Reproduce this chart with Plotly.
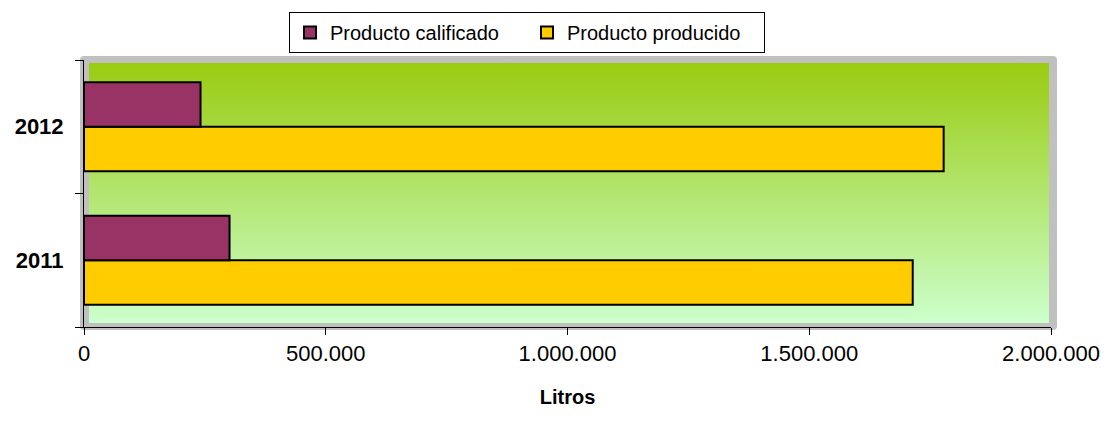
import base64
import plotly.graph_objects as go

# ---- data ----
years = ["2011", "2012"]
producto_producido = [1714000, 1778000]
producto_calificado = [301000, 241000]
x_tickvals = [0, 500000, 1000000, 1500000, 2000000]
x_ticktext = ["0", "500.000", "1.000.000", "1.500.000", "2.000.000"]

FONT = "Liberation Sans, Arial, sans-serif"

fig = go.Figure()
fig.add_trace(go.Bar(
    y=years, x=producto_producido, orientation="h", name="Producto producido",
    marker=dict(color="#FFCC00", line=dict(color="#000000", width=2)),
))
fig.add_trace(go.Bar(
    y=years, x=producto_calificado, orientation="h", name="Producto calificado",
    marker=dict(color="#993366", line=dict(color="#000000", width=2)),
))

# background wall (gray frame + green vertical gradient) as an SVG image
svg = (
    '<svg xmlns="http://www.w3.org/2000/svg" width="977" height="274" viewBox="0 0 977 274" preserveAspectRatio="none">'
    '<defs><linearGradient id="g" x1="0" y1="0" x2="0" y2="1">'
    '<stop offset="0" stop-color="#99CC11"/><stop offset="1" stop-color="#CCFFCC"/>'
    '</linearGradient></defs>'
    '<rect x="0" y="0" width="977" height="274" rx="4" ry="4" fill="#C0C0C0"/>'
    '<rect x="9" y="7" width="960" height="260" fill="url(#g)"/>'
    '</svg>'
)
src = "data:image/svg+xml;base64," + base64.b64encode(svg.encode()).decode()

L, R, T, B = 84, 60, 60, 108
W, H = 1111, 435
pw, ph = W - L - R, H - T - B

fig.add_layout_image(dict(
    source=src, xref="paper", yref="paper",
    x=(80 - L) / pw, y=(T + ph - 56) / ph,
    sizex=977 / pw, sizey=274 / ph,
    xanchor="left", yanchor="top", sizing="stretch", layer="below",
))

fig.update_layout(
    width=W, height=H,
    margin=dict(l=L, r=R, t=T, b=B),
    paper_bgcolor="white", plot_bgcolor="rgba(0,0,0,0)",
    barmode="group", bargap=0.333, bargroupgap=0,
    font=dict(family=FONT, color="#000000"),
    showlegend=True,
    legend=dict(
        orientation="h", traceorder="reversed",
        x=(289 - L) / pw, xanchor="left", y=(T + ph - 12) / ph, yanchor="top",
        bordercolor="#000000", borderwidth=1, bgcolor="white",
        font=dict(size=20, family=FONT, color="#000000"),
        entrywidth=192, entrywidthmode="pixels",
    ),
    xaxis=dict(
        range=[0, 2000000], tickvals=x_tickvals, ticktext=x_ticktext,
        showgrid=False, zeroline=False,
        showline=True, linecolor="#000000", linewidth=1,
        ticks="outside", ticklen=7, tickcolor="#000000",
        tickfont=dict(size=22, family=FONT, color="#000000"),
        ticklabelstandoff=0,
        title=dict(text="<b>Litros</b>", font=dict(size=20, family=FONT, color="#000000"), standoff=24),
    ),
    yaxis=dict(
        type="category", categoryorder="array", categoryarray=years,
        showgrid=False, zeroline=False,
        showline=True, linecolor="#000000", linewidth=1,
        ticks="outside", ticklen=8, tickcolor="#000000", tickson="boundaries",
        tickfont=dict(size=22, family=FONT, color="#000000", weight="bold"),
        ticklabelstandoff=15,
    ),
)

fig.write_html(
    "out.html",
    config={"displayModeBar": False},
    post_script="document.body.style.margin='0';document.body.style.overflow='hidden';",
)
